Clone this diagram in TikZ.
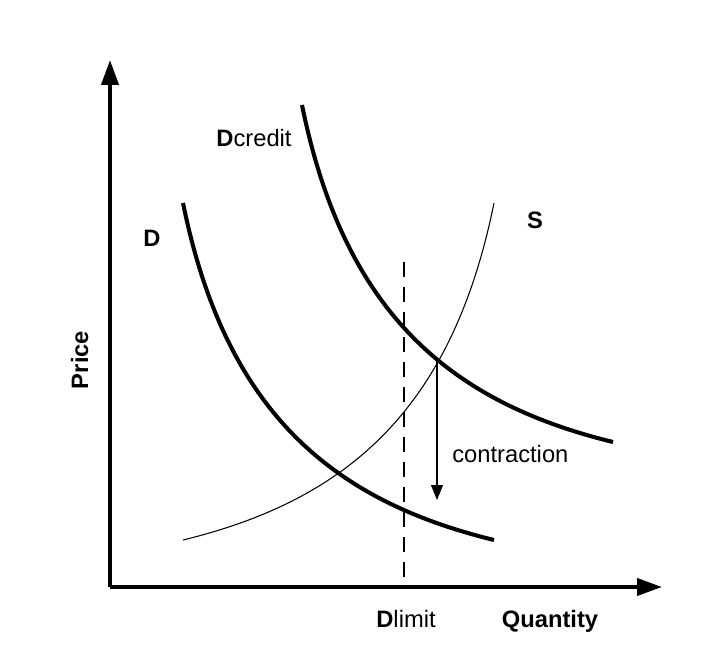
\documentclass[tikz,border=0pt]{standalone}
\usepackage{fontspec}
\setmainfont{Liberation Sans}
\usetikzlibrary{arrows.meta,positioning}
\tikzset{
  eixo/.style={line width=2.3pt, -{Triangle[length=5mm, width=3.4mm]}},
  curvaD/.style={line width=2.3pt},
  curvaS/.style={line width=0.6pt},
  limite/.style={line width=1.1pt, dash pattern=on 3mm off 2mm},
  seta/.style={line width=0.6pt, -{Triangle[length=3mm, width=2.4mm]}},
  rotulo/.style={font=\fontsize{13.5}{16}\selectfont, inner sep=0pt, anchor=base},
}

\begin{document}
\begin{tikzpicture}[x=0.2mm, y=-0.2mm]
  \useasboundingbox (0,0) rectangle (727,655);
  % axes
  \coordinate (origem) at (110,587);
  \coordinate (topo) at (110,60);
  \coordinate (fim) at (662,587);
  \draw[eixo] (origem) -- (topo);
  \draw[eixo] (origem) -- (fim);
  % demand limit
  \coordinate (lim1) at (404,262);
  \coordinate (lim2) at (404,587);
  \draw[limite] (lim1) -- (lim2);
  % curves
  \draw[curvaD] (183,203) .. controls (225,410) and (330,500) .. (494,540);
  \draw[curvaD] (302,105) .. controls (344,312) and (449,402) .. (613,442);
  \draw[curvaS] (183,540) .. controls (347,500) and (452,410) .. (494,203);
  % contraction
  \coordinate (cruz) at (437,358);
  \coordinate (baixo) at (437,500);
  \draw[seta] (cruz) -- (baixo);
  % labels
  \node[rotulo] (dcredito) at (254,147) {\textbf{D}credit};
  \node[rotulo] (d) at (152,247) {\textbf{D}};
  \node[rotulo] (s) at (535,229) {\textbf{S}};
  \node[rotulo, anchor=base west] (contracao) at (452,462) {contraction};
  \node[rotulo] (dlimite) at (406,627) {\textbf{D}limit};
  \node[rotulo] (quantidade) at (550,627) {\textbf{Quantity}};
  \node[rotulo, rotate=90] (preco) at (88,360) {\textbf{Price}};
\end{tikzpicture}
\end{document}
